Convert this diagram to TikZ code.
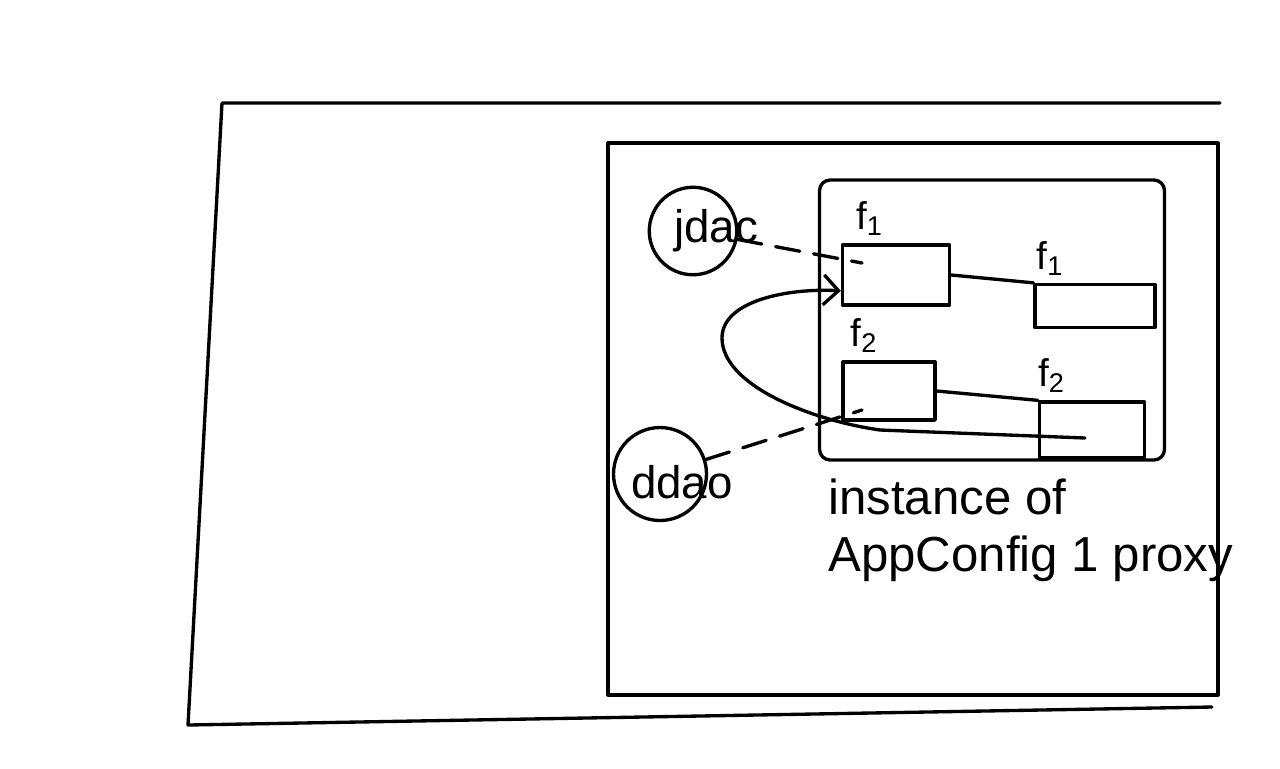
\documentclass[tikz,border=0pt]{standalone}
\usepackage{fontspec}
\setmainfont{Liberation Sans}
\usepackage{tikz}
\usetikzlibrary{positioning,arrows.meta}
\tikzset{
  ink/.style={draw=black,line width=1.9pt,line cap=round,line join=round},
  frame/.style={ink,rectangle,inner sep=0pt},
  ring/.style={ink,circle,inner sep=0pt},
  cell/.style={ink,rectangle,inner sep=0pt},
  hand/.style={font=\fontsize{26}{30}\selectfont,inner sep=0pt},
  tag/.style={font=\fontsize{22}{26}\selectfont,inner sep=0pt,anchor=south west,yshift=4pt},
  ref/.style={ink,dash pattern=on 14pt off 8pt},
  wire/.style={ink},
  loop/.style={ink,-{Straight Barb[length=3mm,width=6mm,line width=1.9pt]}},
}

\begin{document}
\begin{tikzpicture}[x=0.02cm,y=-0.02cm]
  \useasboundingbox (0,0) rectangle (1280,768);
  % outer frame, open on the right
  \draw[ink] (1220,103) -- (222,103) -- (188,725) -- (1212,707);
  \node[frame,minimum width=12.2cm,minimum height=11.04cm] (ctx) at (913,419) {};
  \node[frame,rounded corners=6pt,minimum width=6.9cm,minimum height=5.6cm] (proxy) at (992,320) {};
  \node[hand,font=\fontsize{28}{30}\selectfont,anchor=north west,align=left] (cap) at (828,478)
    {instance of\\[3pt]AppConfig 1 proxy};

  \node[ring,minimum size=1.75cm,label={[hand,xshift=0.46cm]center:jdac}] (jdac) at (693,231) {};
  \node[ring,minimum size=1.86cm,label={[hand,xshift=0.44cm,yshift=-0.16cm]center:ddao}] (ddao) at (660,474) {};

  \node[cell,minimum width=2.14cm,minimum height=1.2cm,
    label={[tag,xshift=0.3cm]north west:f\textsubscript{1}}] (f1a) at (896,275) {};
  \node[cell,minimum width=2.4cm,minimum height=0.86cm,
    label={[tag,xshift=0.06cm]north west:f\textsubscript{1}}] (f1b) at (1095,306) {};
  \node[cell,minimum width=1.84cm,minimum height=1.16cm,
    label={[tag,xshift=0.18cm]north west:f\textsubscript{2}}] (f2a) at (889,391) {};
  \node[cell,minimum width=2.1cm,minimum height=1.12cm,
    label={[tag]north west:f\textsubscript{2}}] (f2b) at (1092,430) {};

  \coordinate (jin) at (862,263);
  \coordinate (din) at (862,410);
  \coordinate (lp) at (1085,438);

  \draw[ref] (jdac) -- (jin);
  \draw[ref] (ddao) -- (din);
  \draw[wire] (f1a.east) -- (f1b.north west);
  \draw[wire] (f2a.east) -- (f2b.north west);
  \draw[loop] (lp) -- (880,430) .. controls (810,420) and (722,385) .. (722,338)
    .. controls (722,300) and (790,288) .. (f1a.196);
\end{tikzpicture}
\end{document}
